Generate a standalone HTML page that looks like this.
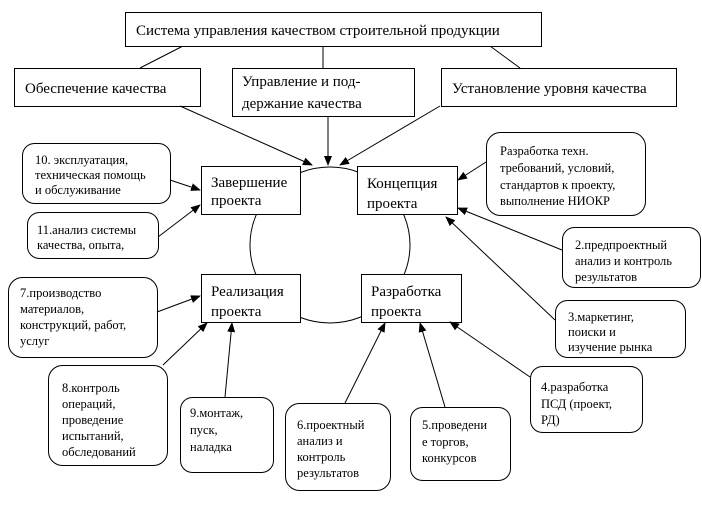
<!DOCTYPE html>
<html><head><meta charset="utf-8"><style>
html,body{margin:0;padding:0;background:#fff;}
svg{display:block;}
text{font-family:"Liberation Serif","DejaVu Serif",serif;fill:#000;}
</style></head><body>
<svg width="702" height="516" viewBox="0 0 702 516" xmlns="http://www.w3.org/2000/svg">
<defs><marker id="a" markerWidth="10" markerHeight="8" refX="9" refY="4" orient="auto" markerUnits="userSpaceOnUse"><path d="M0,0 L10,4 L0,8 z" fill="#000"/></marker></defs>
<g fill="none" stroke="#000" stroke-width="1">
<ellipse cx="330" cy="245" rx="80" ry="78"/>
<line x1="183" y1="46" x2="140" y2="68"/>
<line x1="323" y1="46" x2="323" y2="68"/>
<line x1="490" y1="46" x2="520" y2="68"/>
</g>
<g fill="#fff" stroke="#000" stroke-width="1">
<rect x="125.5" y="12.5" width="416" height="34"/>
<rect x="14.5" y="68.5" width="186" height="38"/>
<rect x="232.5" y="68.5" width="182" height="48"/>
<rect x="441.5" y="68.5" width="235" height="38"/>
<rect x="201.5" y="166.5" width="99" height="48"/>
<rect x="357.5" y="166.5" width="100" height="48"/>
<rect x="201.5" y="274.5" width="99" height="48"/>
<rect x="361.5" y="274.5" width="100" height="48"/>
<rect x="486.5" y="132.5" width="159" height="83" rx="14"/>
<rect x="22.5" y="143.5" width="148" height="60" rx="12"/>
<rect x="27.5" y="212.5" width="131" height="46" rx="12"/>
<rect x="562.5" y="227.5" width="138" height="60" rx="12"/>
<rect x="555.5" y="300.5" width="130" height="57" rx="12"/>
<rect x="8.5" y="277.5" width="149" height="80" rx="14"/>
<rect x="530.5" y="366.5" width="112" height="66" rx="12"/>
<rect x="48.5" y="365.5" width="119" height="100" rx="14"/>
<rect x="180.5" y="397.5" width="93" height="75" rx="12"/>
<rect x="285.5" y="403.5" width="105" height="87" rx="14"/>
<rect x="410.5" y="407.5" width="100" height="73" rx="12"/>
</g>
<g stroke="#000" stroke-width="1" marker-end="url(#a)">
<line x1="180" y1="106" x2="312" y2="165"/>
<line x1="328" y1="116" x2="328" y2="165"/>
<line x1="440" y1="106" x2="340" y2="165"/>
<line x1="170" y1="180" x2="200" y2="190"/>
<line x1="158" y1="237" x2="200" y2="205"/>
<line x1="486" y1="162" x2="458" y2="180"/>
<line x1="562" y1="250" x2="458" y2="208"/>
<line x1="555" y1="320" x2="446" y2="217"/>
<line x1="157" y1="312" x2="200" y2="296"/>
<line x1="163" y1="365" x2="207" y2="323"/>
<line x1="225" y1="397" x2="232" y2="323"/>
<line x1="345" y1="403" x2="385" y2="323"/>
<line x1="445" y1="407" x2="420" y2="323"/>
<line x1="530" y1="377" x2="450" y2="322"/>
</g>
<g font-size="15">
<text x="136" y="35">Система управления качеством строительной продукции</text>
<text x="25" y="93">Обеспечение качества</text>
<text x="242" y="86">Управление и под-</text>
<text x="242" y="108">держание качества</text>
<text x="452" y="93">Установление уровня качества</text>
<text x="211" y="187">Завершение</text>
<text x="211" y="205">проекта</text>
<text x="367" y="188">Концепция</text>
<text x="367" y="208">проекта</text>
<text x="211" y="296">Реализация</text>
<text x="211" y="316">проекта</text>
<text x="371" y="296">Разработка</text>
<text x="371" y="316">проекта</text>
</g>
<g font-size="12.5">
<text x="500" y="155">Разработка техн.</text>
<text x="500" y="172">требований, условий,</text>
<text x="500" y="189">стандартов к проекту,</text>
<text x="500" y="205">выполнение НИОКР</text>
<text x="35" y="164">10. эксплуатация,</text>
<text x="35" y="179">техническая помощь</text>
<text x="35" y="194">и обслуживание</text>
<text x="37" y="234">11.анализ системы</text>
<text x="37" y="249">качества, опыта,</text>
<text x="575" y="249">2.предпроектный</text>
<text x="575" y="265">анализ и контроль</text>
<text x="575" y="281">результатов</text>
<text x="568" y="321">3.маркетинг,</text>
<text x="568" y="336">поиски и</text>
<text x="568" y="351">изучение рынка</text>
<text x="20" y="297">7.производство</text>
<text x="20" y="313">материалов,</text>
<text x="20" y="329">конструкций, работ,</text>
<text x="20" y="345">услуг</text>
<text x="541" y="391">4.разработка</text>
<text x="541" y="408">ПСД (проект,</text>
<text x="541" y="424">РД)</text>
<text x="62" y="392">8.контроль</text>
<text x="62" y="408">операций,</text>
<text x="62" y="424">проведение</text>
<text x="62" y="440">испытаний,</text>
<text x="62" y="456">обследований</text>
<text x="190" y="417">9.монтаж,</text>
<text x="190" y="434">пуск,</text>
<text x="190" y="451">наладка</text>
<text x="297" y="429">6.проектный</text>
<text x="297" y="445">анализ и</text>
<text x="297" y="461">контроль</text>
<text x="297" y="477">результатов</text>
<text x="422" y="429">5.проведени</text>
<text x="422" y="446">е торгов,</text>
<text x="422" y="462">конкурсов</text>
</g>
</svg>
</body></html>
